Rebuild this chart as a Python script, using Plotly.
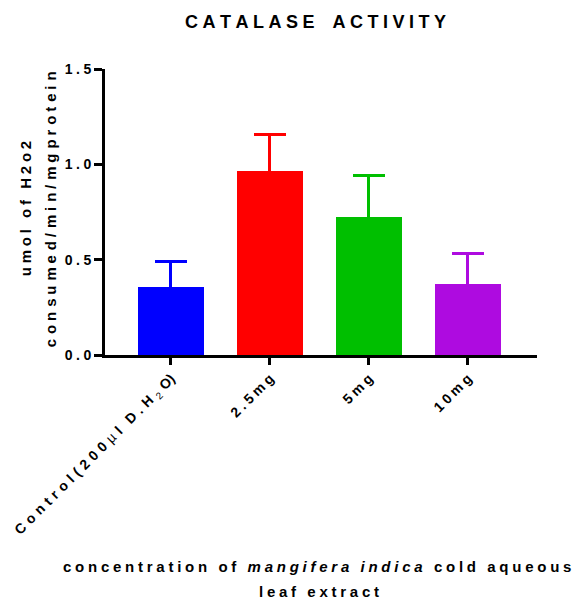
import plotly.graph_objects as go

categories = ["Control(200 \u00b5l D.H2O)", "2.5mg", "5mg", "10mg"]
means = [0.357, 0.965, 0.724, 0.371]
errors = [0.131, 0.192, 0.215, 0.160]
colors = ["#0000FF", "#FF0000", "#00BF00", "#AE0BE0"]
y_ticks = [0.0, 0.5, 1.0, 1.5]
y_tick_labels = ["0.0", "0.5", "1.0", "1.5"]

LS = "\u2005"          # letter spacing
WS = "\u2002\u2005"    # word spacing


def spaced(s, ls=LS, ws=WS):
    words = s.split(" ")
    return ws.join(ls.join(w) for w in words)


def alt_spaced(s, a="\u2004", b="\u2005"):
    out = s[0]
    for k, ch in enumerate(s[1:]):
        out += (a if k % 2 == 0 else b) + ch
    return out


fig = go.Figure()
for i, (c, m, e, col) in enumerate(zip(categories, means, errors, colors)):
    fig.add_trace(go.Bar(
        x=[i], y=[m], width=0.667, marker=dict(color=col, line=dict(width=0)),
        error_y=dict(type="data", symmetric=False, array=[e], arrayminus=[0.03],
                     color=col, thickness=3, width=16),
        showlegend=False,
    ))

CL = "\u2005\u200a"
ctrl_label = ("<b>" + CL.join("Control(200") + CL + "</b>\u00b5<b>" + CL + "l" + "\u2002\u2005" +
              CL.join("D.H") + CL + "</b><sub>2</sub><b>" + CL + "O)</b>")
tick_text = [ctrl_label] + ["<b>" + spaced(c) + "</b>" for c in categories[1:]]

fig.update_layout(
    width=582, height=599,
    margin=dict(l=105, r=45, t=69, b=244),
    paper_bgcolor="white", plot_bgcolor="white",
    font=dict(family="Liberation Sans, Arial, sans-serif", color="black"),
    title=dict(text="<b>" + spaced("CATALASE ACTIVITY", ws="\u2002\u2005\u2005") + "</b>",
               x=0.542, xanchor="center", y=0.963, yanchor="middle",
               font=dict(size=18, color="black")),
    bargap=0,
)
fig.update_xaxes(
    range=[-0.667, 3.70], tickmode="array", tickvals=list(range(len(categories))),
    ticktext=tick_text,
    tickangle=-45, ticks="outside", ticklen=7, tickwidth=3, tickcolor="black",
    showline=True, linewidth=3, linecolor="black", showgrid=False, zeroline=False,
    tickfont=dict(size=14, color="black"),
)
fig.update_yaxes(
    range=[0, 1.5], tickmode="array", tickvals=y_ticks,
    ticktext=["<b>" + spaced(t) + "</b>" for t in y_tick_labels],
    ticks="outside", ticklen=8, tickwidth=3, tickcolor="black",
    showline=True, linewidth=3, linecolor="black", showgrid=False, zeroline=False,
    tickfont=dict(size=14, color="black"),
)
fig.add_annotation(
    text="<b>" + spaced("umol of H2o2") + "</b>",
    xref="paper", yref="paper", x=-0.185, y=0.51, textangle=-90,
    showarrow=False, xanchor="center", yanchor="middle",
    font=dict(size=15, color="black"),
)
fig.add_annotation(
    text="<b>" + alt_spaced("consumed/min/mgprotein") + "</b>",
    xref="paper", yref="paper", x=-0.127, y=0.51, textangle=-90,
    showarrow=False, xanchor="center", yanchor="middle",
    font=dict(size=15, color="black"),
)
fig.add_annotation(
    text="<b>" + spaced("concentration of") + WS + "<i>" + spaced("mangifera indica") + "</i>" + WS +
         spaced("cold aqueous") + "</b>",
    xref="paper", yref="paper", x=0.49, y=-0.738, showarrow=False,
    xanchor="center", yanchor="middle", font=dict(size=15, color="black"),
)
fig.add_annotation(
    text="<b>" + spaced("leaf extract") + "</b>",
    xref="paper", yref="paper", x=0.495, y=-0.826, showarrow=False,
    xanchor="center", yanchor="middle", font=dict(size=15, color="black"),
)

fig.write_html("out.html", config={"displayModeBar": False},
               post_script="document.body.style.margin='0';")
